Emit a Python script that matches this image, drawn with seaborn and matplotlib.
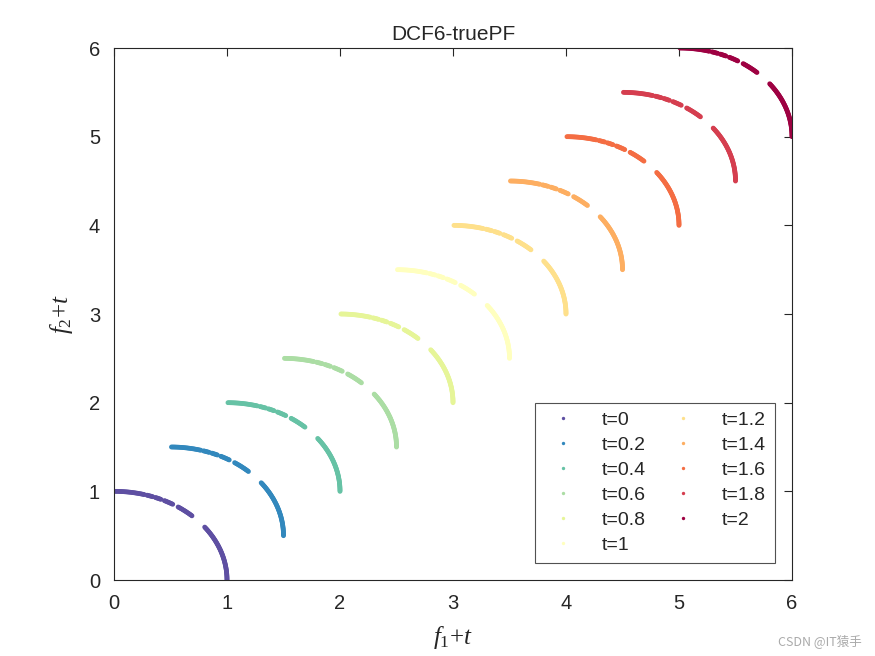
import numpy as np
import pandas as pd
import matplotlib
matplotlib.use("Agg")
import matplotlib.pyplot as plt
import seaborn as sns

# ---- data ----
t_values = [0, 0.2, 0.4, 0.6, 0.8, 1, 1.2, 1.4, 1.6, 1.8, 2]
t_labels = ["t=0", "t=0.2", "t=0.4", "t=0.6", "t=0.8", "t=1",
            "t=1.2", "t=1.4", "t=1.6", "t=1.8", "t=2"]
offsets = [0, 0.5, 1.0, 1.5, 2.0, 2.5, 3.0, 3.5, 4.0, 4.5, 5.0]
# visible arc pieces (angle in degrees from the f1 axis), same for every t
seg_start = [0.0, 46.4, 58.7, 65.5, 70.0, 74.5]
seg_end = [36.9, 55.9, 64.0, 68.8, 73.2, 90.0]
colors = ["#5E4FA2", "#3288BD", "#66C2A5", "#ABDDA4", "#E6F598", "#FFFFBF",
          "#FEE08B", "#FDAE61", "#F46D43", "#D53E4F", "#9E0142"]

rows = []
for lab, off in zip(t_labels, offsets):
    for a0, a1 in zip(seg_start, seg_end):
        ang = np.deg2rad(np.arange(a0, a1 + 1e-9, 0.6))
        for a in ang:
            rows.append((lab, off + np.cos(a), off + np.sin(a)))
df = pd.DataFrame(rows, columns=["t", "f1", "f2"])

sns.set_style("white")
plt.rcParams["font.family"] = ["Liberation Sans", "DejaVu Sans"]
plt.rcParams["mathtext.fontset"] = "custom"
plt.rcParams["mathtext.it"] = "Liberation Serif:italic"
plt.rcParams["mathtext.rm"] = "Liberation Serif"

fig = plt.figure(figsize=(8.75, 6.56), dpi=100)
ax = fig.add_axes([114/875, 1-580/656, (792-114)/875, (580-48)/656])

sns.scatterplot(data=df, x="f1", y="f2", hue="t", hue_order=t_labels,
                palette=colors, s=12, linewidth=0, edgecolor="none",
                ax=ax, legend=True)

ax.set_xlim(0, 6)
ax.set_ylim(0, 6)
ax.set_xticks(range(7))
ax.set_yticks(range(7))
ax.tick_params(direction="in", length=6, width=0.8, labelsize=14.5,
               top=True, right=True, colors="#262626", pad=10)
for sp in ax.spines.values():
    sp.set_visible(True)
    sp.set_color("#262626")
    sp.set_linewidth(0.8)

ax.set_title("DCF6-truePF", fontsize=15, color="#262626", pad=6)
ax.set_xlabel(r"$f_{\mathit{1}}\mathrm{+}t$", fontsize=18, color="#262626", labelpad=8)
ax.set_ylabel(r"$f_{\mathit{2}}\mathrm{+}t$", fontsize=18, color="#262626", labelpad=10)

handles, labels = ax.get_legend_handles_labels()
leg = ax.legend(handles, labels, ncol=2, loc="lower right",
                bbox_to_anchor=(775/875, 1-563/656), bbox_transform=fig.transFigure,
                fontsize=14, frameon=True, fancybox=False, markerscale=0.7,
                handletextpad=1.0, columnspacing=0.9, labelspacing=0.38,
                borderpad=0.45, handlelength=2.0, borderaxespad=0)
leg.get_frame().set_edgecolor("#262626")
leg.get_frame().set_linewidth(0.8)

fig.text(0.985, 0.012, "CSDN @IT猿手", ha="right", va="bottom", fontsize=9,
         color="#aaaaaa", family=["Noto Sans CJK SC", "DejaVu Sans"])

fig.savefig("out.png", dpi=100)
